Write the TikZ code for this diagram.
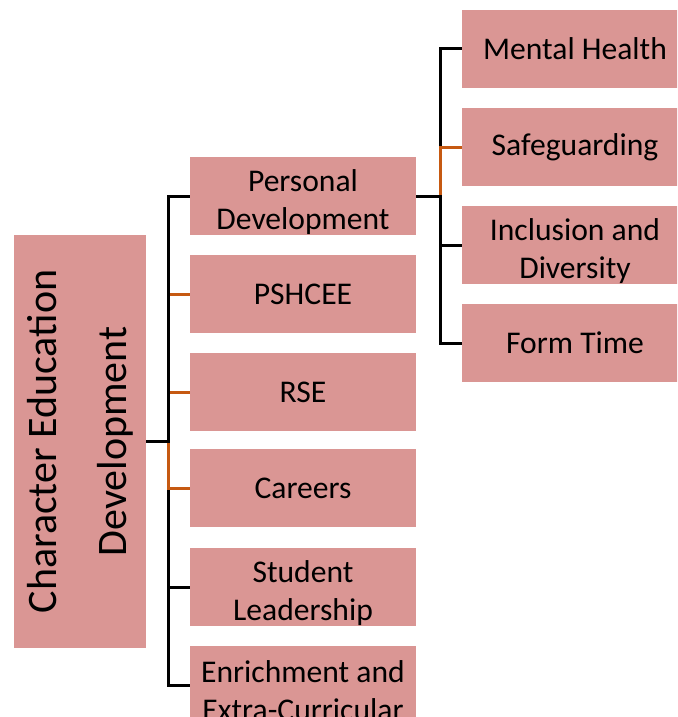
\documentclass[tikz,border=0pt]{standalone}
\usepackage{fontspec}
\setmainfont{Carlito}
\definecolor{boxpink}{HTML}{DA9694}
\definecolor{orangeline}{HTML}{C65911}
\newcommand{\topstrut}{\rule{0pt}{34pt}}
\begin{document}
\begin{tikzpicture}[x=1pt,y=-1pt,
  box/.style={fill=boxpink, draw=none, inner sep=0pt, minimum width=226pt, minimum height=78pt,
    font=\fontsize{31.6}{38}\selectfont, align=center},
  rootbox/.style={fill=boxpink, draw=none, inner sep=0pt, minimum width=413pt, minimum height=132pt,
    font=\fontsize{42}{70}\selectfont, align=center},
  blk/.style={line width=3pt, black},
  org/.style={line width=3pt, orangeline}]
\useasboundingbox (0,0) rectangle (677,717);
\clip (0,0) rectangle (677,717);
% root
\node[rootbox, rotate=90] (root) at (80,441.5) {Character Education\\Development};
% children
\node[box] (pd)  at (303,196) {\topstrut Personal\\Development};
\node[box] (psh) at (303,294) {PSHCEE};
\node[box] (rse) at (303,392) {RSE};
\node[box] (car) at (303,488) {Careers};
\node[box] (sl)  at (303,587) {\topstrut Student\\Leadership};
\node[box] (enr) at (303,685) {\topstrut Enrichment and\\Extra-Curricular};
% grandchildren
\node[box] (mh)  at (575,49)  {Mental Health};
\node[box] (sg)  at (575,147) {Safeguarding};
\node[box] (inc) at (575,245) {\topstrut Inclusion and\\Diversity};
\node[box] (ft)  at (575,343) {Form Time};
% connectors root -> children
\draw[org] (root.south) -- ++(22,0) |- (psh.west);
\draw[org] (root.south) -- ++(22,0) |- (rse.west);
\draw[blk] (root.south) -- ++(22,0) |- (pd.west);
\draw[blk] (root.south) -- ++(22,0) |- (sl.west);
\draw[blk] (root.south) -- ++(22,0) |- (enr.west);
\draw[org] (root.south) -- ++(22,0) |- (car.west);
\draw[blk] (root.south) -- ++(23.5,0);
% connectors pd -> grandchildren
\draw[blk] (pd.east) -- ++(24,0) |- (mh.west);
\draw[org] (pd.east) -- ++(24,0) |- (sg.west);
\draw[blk] (pd.east) -- ++(24,0) |- (inc.west);
\draw[blk] (pd.east) -- ++(24,0) |- (ft.west);
\end{tikzpicture}
\end{document}
